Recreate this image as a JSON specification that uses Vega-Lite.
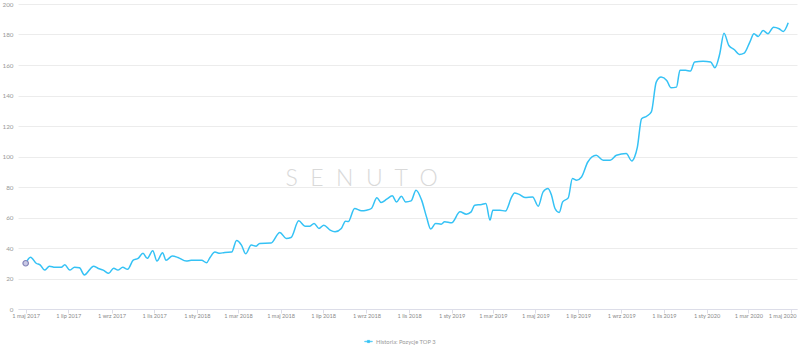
{
  "$schema": "https://vega.github.io/schema/vega-lite/v6.json",
  "width": 779,
  "height": 305,
  "autosize": "none",
  "padding": {"left": 18, "top": 4, "right": 3, "bottom": 51},
  "background": "white",
  "config": {
    "view": {"stroke": null},
    "font": "Lato",
    "axis": {"labelFont": "Lato", "labelFontSize": 6.3, "labelColor": "#8a8a8a"}
  },
  "datasets": {
    "top3": [
      {"date":"2017-05-01","v":30},{"date":"2017-05-08","v":34},{"date":"2017-05-16","v":30},{"date":"2017-05-22","v":28.8},
      {"date":"2017-05-28","v":25.5},{"date":"2017-06-04","v":28},{"date":"2017-06-12","v":27.3},{"date":"2017-06-21","v":27.3},
      {"date":"2017-06-26","v":29},{"date":"2017-07-03","v":25.5},{"date":"2017-07-10","v":27.3},{"date":"2017-07-17","v":27},
      {"date":"2017-07-24","v":22.3},{"date":"2017-08-01","v":26},{"date":"2017-08-06","v":28.1},{"date":"2017-08-13","v":26.6},
      {"date":"2017-08-20","v":25.5},{"date":"2017-08-28","v":23.4},{"date":"2017-09-04","v":26.8},{"date":"2017-09-10","v":25.5},
      {"date":"2017-09-17","v":27.3},{"date":"2017-09-24","v":26},{"date":"2017-10-02","v":32},{"date":"2017-10-09","v":33.2},
      {"date":"2017-10-16","v":36.5},{"date":"2017-10-22","v":33.2},{"date":"2017-10-30","v":38.2},{"date":"2017-11-05","v":31.4},
      {"date":"2017-11-13","v":36.9},{"date":"2017-11-18","v":32},{"date":"2017-11-27","v":34.7},{"date":"2017-12-05","v":33.8},
      {"date":"2017-12-17","v":31.4},{"date":"2017-12-24","v":32},{"date":"2018-01-08","v":32},{"date":"2018-01-15","v":30.3},
      {"date":"2018-01-20","v":33.8},{"date":"2018-01-27","v":37.3},{"date":"2018-02-03","v":36.5},{"date":"2018-02-10","v":37.1},
      {"date":"2018-02-20","v":37.3},{"date":"2018-02-27","v":45},{"date":"2018-03-06","v":41.9},{"date":"2018-03-12","v":36.2},
      {"date":"2018-03-20","v":41.9},{"date":"2018-03-27","v":41.2},{"date":"2018-04-01","v":43},{"date":"2018-04-17","v":43.2},
      {"date":"2018-04-30","v":50.2},{"date":"2018-05-09","v":46.3},{"date":"2018-05-16","v":46.9},{"date":"2018-05-27","v":57.8},
      {"date":"2018-06-05","v":54.3},{"date":"2018-06-12","v":54.3},{"date":"2018-06-18","v":56.1},{"date":"2018-06-25","v":52.8},
      {"date":"2018-07-02","v":55},{"date":"2018-07-11","v":51.7},{"date":"2018-07-18","v":50.6},{"date":"2018-07-27","v":52.8},
      {"date":"2018-08-02","v":57.6},{"date":"2018-08-06","v":57.3},{"date":"2018-08-15","v":65.9},{"date":"2018-08-25","v":64.4},
      {"date":"2018-09-01","v":64.8},{"date":"2018-09-08","v":65.9},{"date":"2018-09-16","v":72.9},{"date":"2018-09-22","v":69.8},
      {"date":"2018-09-30","v":72},{"date":"2018-10-08","v":74.2},{"date":"2018-10-14","v":70.2},{"date":"2018-10-21","v":74},
      {"date":"2018-10-27","v":70.2},{"date":"2018-11-04","v":70.9},{"date":"2018-11-11","v":77.9},{"date":"2018-11-19","v":71.4},
      {"date":"2018-11-26","v":60.4},{"date":"2018-12-02","v":52.4},{"date":"2018-12-09","v":56.1},{"date":"2018-12-17","v":55.6},
      {"date":"2018-12-22","v":57.2},{"date":"2019-01-01","v":56.5},{"date":"2019-01-13","v":63.7},{"date":"2019-01-22","v":62.2},
      {"date":"2019-01-29","v":63.7},{"date":"2019-02-03","v":68.1},{"date":"2019-02-13","v":68.5},{"date":"2019-02-19","v":69.2},
      {"date":"2019-02-25","v":58.3},{"date":"2019-03-01","v":64.8},{"date":"2019-03-11","v":64.8},{"date":"2019-03-19","v":64.2},
      {"date":"2019-03-28","v":73.5},{"date":"2019-04-01","v":76.1},{"date":"2019-04-07","v":75.3},{"date":"2019-04-16","v":73.1},
      {"date":"2019-04-27","v":73.5},{"date":"2019-05-05","v":67.4},{"date":"2019-05-12","v":76.8},{"date":"2019-05-19","v":79},
      {"date":"2019-05-24","v":74.6},{"date":"2019-05-29","v":65.9},{"date":"2019-06-04","v":63.3},{"date":"2019-06-09","v":70.2},
      {"date":"2019-06-17","v":72.9},{"date":"2019-06-23","v":85.6},{"date":"2019-06-29","v":84.5},{"date":"2019-07-06","v":86.6},
      {"date":"2019-07-15","v":96.4},{"date":"2019-07-27","v":100.8},{"date":"2019-08-06","v":97.5},{"date":"2019-08-16","v":97.5},
      {"date":"2019-08-25","v":100.8},{"date":"2019-09-08","v":101.9},{"date":"2019-09-16","v":97.1},{"date":"2019-09-20","v":99.7},
      {"date":"2019-09-24","v":106.2},{"date":"2019-09-30","v":124.8},{"date":"2019-10-07","v":126.3},{"date":"2019-10-14","v":129.2},
      {"date":"2019-10-21","v":148.8},{"date":"2019-10-28","v":152.1},{"date":"2019-11-05","v":149.9},{"date":"2019-11-11","v":145.1},
      {"date":"2019-11-19","v":145.5},{"date":"2019-11-24","v":156.5},{"date":"2019-12-02","v":156.5},{"date":"2019-12-09","v":156},
      {"date":"2019-12-15","v":161.9},{"date":"2019-12-27","v":162.4},{"date":"2020-01-07","v":161.9},{"date":"2020-01-13","v":158.2},
      {"date":"2020-01-20","v":167.4},{"date":"2020-01-26","v":180.9},{"date":"2020-02-02","v":172.8},{"date":"2020-02-10","v":170},
      {"date":"2020-02-17","v":166.9},{"date":"2020-02-24","v":167.8},{"date":"2020-03-03","v":175},{"date":"2020-03-09","v":180.5},
      {"date":"2020-03-15","v":178.7},{"date":"2020-03-22","v":182.6},{"date":"2020-03-29","v":180.5},{"date":"2020-04-06","v":184.8},
      {"date":"2020-04-14","v":183.8},{"date":"2020-04-20","v":182},{"date":"2020-04-27","v":187.7}
    ],
    "mark": [{"label": "SENUTO", "date": "2018-08-25", "v": 85}]
  },
  "encoding": {
    "x": {
      "field": "date", "type": "temporal",
      "scale": {"type": "utc", "domain": [{"year": 2017, "month": 4, "date": 20, "utc": true}, {"year": 2020, "month": 5, "date": 9, "hours": 14, "utc": true}]},
      "axis": {
        "title": null, "grid": false,
        "values": [
          {"year":2017,"month":5,"date":1,"utc":true},{"year":2017,"month":7,"date":1,"utc":true},{"year":2017,"month":9,"date":1,"utc":true},{"year":2017,"month":11,"date":1,"utc":true},
          {"year":2018,"month":1,"date":1,"utc":true},{"year":2018,"month":3,"date":1,"utc":true},{"year":2018,"month":5,"date":1,"utc":true},{"year":2018,"month":7,"date":1,"utc":true},
          {"year":2018,"month":9,"date":1,"utc":true},{"year":2018,"month":11,"date":1,"utc":true},{"year":2019,"month":1,"date":1,"utc":true},{"year":2019,"month":3,"date":1,"utc":true},
          {"year":2019,"month":5,"date":1,"utc":true},{"year":2019,"month":7,"date":1,"utc":true},{"year":2019,"month":9,"date":1,"utc":true},{"year":2019,"month":11,"date":1,"utc":true},
          {"year":2020,"month":1,"date":1,"utc":true},{"year":2020,"month":3,"date":1,"utc":true},{"year":2020,"month":5,"date":1,"utc":true}
        ],
        "labelExpr": "'1 ' + ['sty','lut','mar','kwi','maj','cze','lip','sie','wrz','paź','lis','gru'][utcmonth(datum.value)] + ' ' + utcyear(datum.value)",
        "labelFontSize": 5.6,
        "domainColor": "#dcdde8", "tickColor": "#dcdde8", "tickSize": 4, "labelPadding": 0,
        "labelFlush": 7, "labelFlushOffset": 5, "labelOverlap": false
      }
    },
    "y": {
      "field": "v", "type": "quantitative",
      "scale": {"domain": [0, 200], "nice": false},
      "axis": {
        "title": null, "values": [0, 20, 40, 60, 80, 100, 120, 140, 160, 180, 200],
        "domain": false, "ticks": false, "labelPadding": 5, "labelColor": "#999999",
        "gridColor": "#ececec", "gridWidth": 1
      }
    }
  },
  "layer": [
    {
      "data": {"name": "mark"},
      "mark": {"type": "text", "font": "Lato", "fontWeight": 300, "fontSize": 23, "color": "#d9d9d9"},
      "encoding": {"text": {"value": "S\u00a0\u00a0E\u00a0\u00a0N\u00a0\u00a0U\u00a0\u00a0T\u00a0\u00a0O"}}
    },
    {
      "data": {"name": "top3"},
      "mark": {"type": "line", "interpolate": "monotone", "strokeWidth": 1.5},
      "encoding": {
        "color": {
          "datum": "Historia: Pozycje TOP 3",
          "scale": {"range": ["#35c2f5"]},
          "legend": {
            "orient": "none", "legendX": 346, "legendY": 333, "title": null,
            "labelFont": "Lato", "labelFontSize": 5.8, "labelColor": "#9a9a9a",
            "symbolType": "M-1,-0.08H1V0.08H-1Z M-0.3,-0.3H0.3V0.3H-0.3Z",
            "symbolFillColor": "#35c2f5", "symbolStrokeColor": "#35c2f5", "symbolStrokeWidth": 0.5,
            "symbolSize": 60, "labelOffset": 3
          }
        }
      }
    },
    {
      "data": {"name": "top3"},
      "transform": [{"filter": "utcyear(datum.date) == 2017 && utcmonth(datum.date) == 4 && utcdate(datum.date) == 1"}],
      "mark": {"type": "point", "filled": true, "size": 30, "fill": "#c9c9e6", "stroke": "#8585b8", "strokeWidth": 1.2, "opacity": 1}
    }
  ]
}
